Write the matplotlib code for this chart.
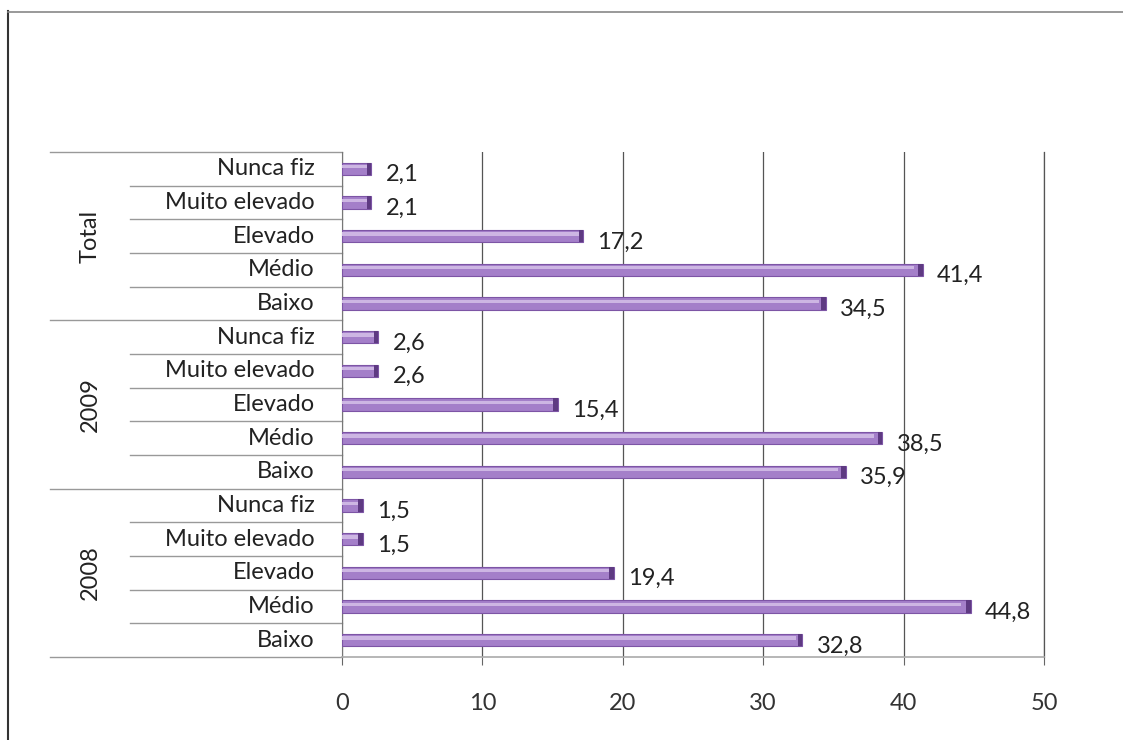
import numpy as np
import matplotlib.pyplot as plt
from matplotlib.lines import Line2D
import matplotlib.transforms as mtransforms

plt.rcParams['font.family'] = ['Lato', 'DejaVu Sans']

# data (top to bottom as in the chart)
groups = ["Total", "2009", "2008"]
categories = ["Nunca fiz", "Muito elevado", "Elevado", "Médio", "Baixo"]
values = {
    "Total": [2.1, 2.1, 17.2, 41.4, 34.5],
    "2009": [2.6, 2.6, 15.4, 38.5, 35.9],
    "2008": [1.5, 1.5, 19.4, 44.8, 32.8],
}
xticks = [0, 10, 20, 30, 40, 50]

labels = []
vals = []
for g in groups:
    labels += categories
    vals += values[g]
vals = np.array(vals)
ypos = np.arange(len(vals))

fs = 17

fig = plt.figure(figsize=(11.23, 7.40), dpi=100)
ax = fig.add_axes([0.3045, 0.1122, 0.6251, 0.6824])

# bars with a light highlight stripe
ax.barh(ypos, vals, height=0.36, color="#a47fc9", edgecolor="#7d55a5", linewidth=0.8, zorder=3)
ax.barh(ypos - 0.06, vals * 0.985, height=0.1, color="#cdb6e3", linewidth=0, zorder=4)
ax.barh(ypos, np.full(len(vals), 0.35), left=vals - 0.35, height=0.36, color="#5e3a82", linewidth=0, zorder=5)

for y, v in zip(ypos, vals):
    ax.annotate(("%.1f" % v).replace(".", ","), xy=(v, y), xytext=(14, -6),
                textcoords="offset pixels", va="center", ha="left", fontsize=fs, color="#222222")

ax.set_xlim(0, 50)
ax.set_ylim(len(vals) - 0.5, -0.5)
ax.set_xticks(xticks)
ax.set_xticklabels([str(t) for t in xticks], fontsize=fs, color="#333333")
ax.tick_params(axis="x", length=6, color="#666666", pad=20)
ax.set_yticks([])
ax.grid(axis="x", color="#555555", linewidth=0.9, zorder=0)
ax.spines["top"].set_visible(False)
ax.spines["right"].set_color("#555555")
ax.spines["right"].set_linewidth(0.9)
ax.spines["left"].set_color("#777777")
ax.spines["bottom"].set_color("#aaaaaa")
ax.spines["bottom"].set_linewidth(1.2)

# category labels and separators in the label area
trans = mtransforms.blended_transform_factory(ax.transAxes, ax.transData)
for y, lab in zip(ypos, labels):
    ax.annotate(lab, xy=(0, y), xycoords=trans, xytext=(-27, 0), textcoords="offset pixels",
                ha="right", va="center", fontsize=fs, color="#222222")
for i in range(len(vals) + 1):
    yb = i - 0.5
    x0 = -0.416 if i % len(categories) == 0 else -0.302
    ax.plot([x0, 0], [yb, yb], transform=trans, color="#999999", linewidth=1, clip_on=False)
for k, g in enumerate(groups):
    yc = k * len(categories) + (len(categories) - 1) / 2
    ax.annotate(g, xy=(0, yc), xycoords=trans, xytext=(-252, 0), textcoords="offset pixels",
                ha="center", va="center", rotation=90, fontsize=fs, color="#222222")

# outer frame (top and left only)
fig.add_artist(Line2D([0.0071, 0.0071], [0.985, 0], transform=fig.transFigure, color="#333333", linewidth=1.5))
fig.add_artist(Line2D([0.0071, 1], [0.984, 0.984], transform=fig.transFigure, color="#888888", linewidth=1.2))

fig.savefig("out.png", dpi=100)
